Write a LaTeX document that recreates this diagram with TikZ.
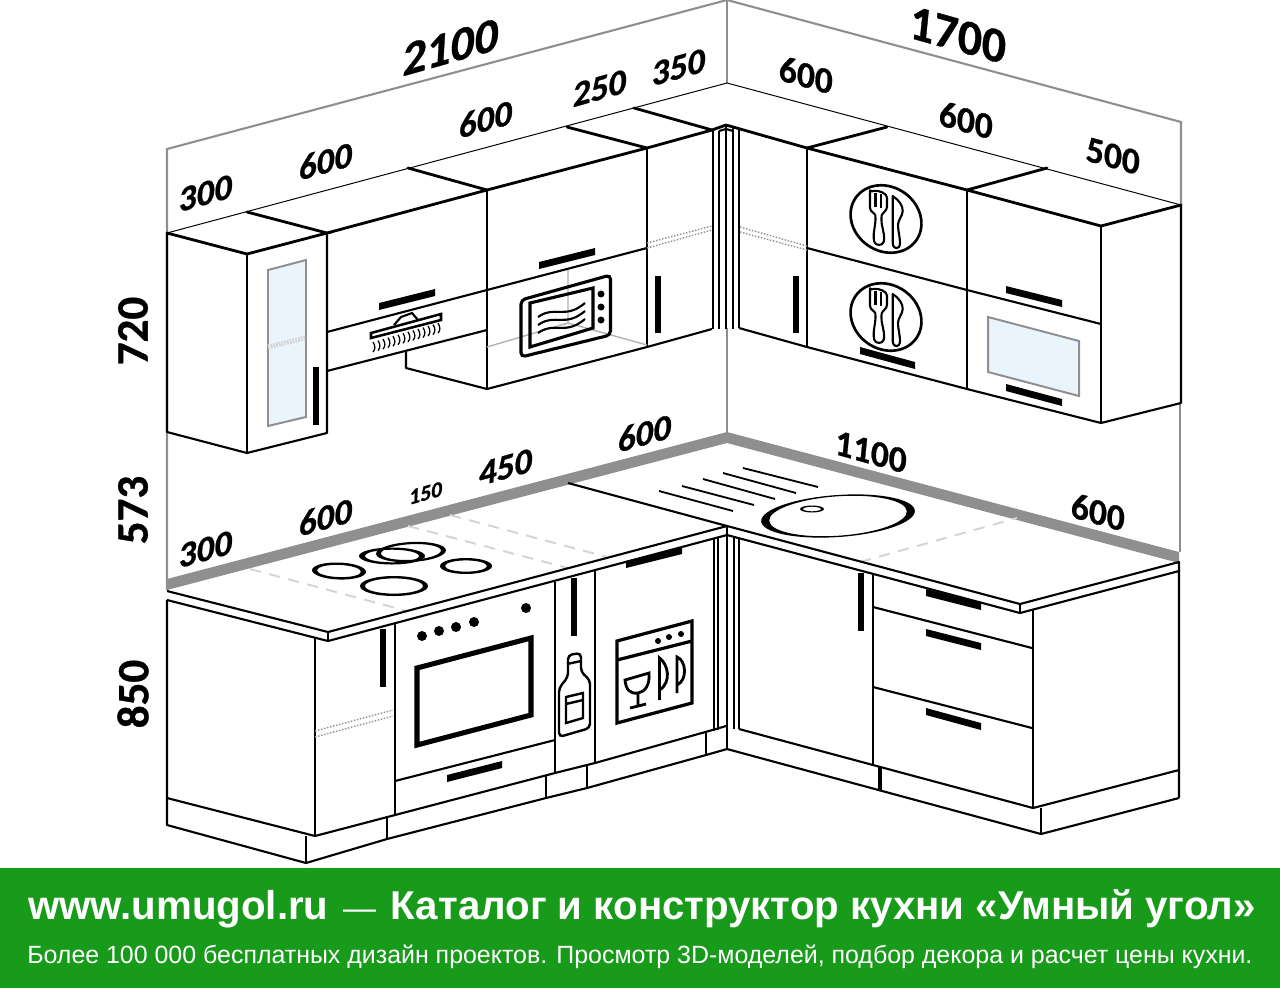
\documentclass[tikz,border=0pt]{standalone}
\usepackage{fontspec}
\setmainfont{Liberation Sans}
\newfontfamily\dimfont{Carlito Bold}[FakeBold=0.7]
\definecolor{wallgray}{HTML}{8F8F8F}
\definecolor{banner}{HTML}{189A1A}
\definecolor{glassblue}{HTML}{EAF4FD}
\definecolor{dashgray}{HTML}{D4D4D4}
\newcommand{\handle}[4]{\fill[black] (#1,#2) -- ++(#3,#4) -- ++(0,7) -- ++(-#3,-#4) -- cycle;}
\newcommand{\vhandle}[3]{\fill[black] (#1,#2) rectangle (#1+6,#3);}
\newcommand{\ringshape}[7]{\fill[black,even odd rule,rotate around={#6:(#1,#2)}] (#1,#2) ellipse [x radius=#3,y radius=#4] (#1,#2) ellipse [x radius=#3-#5,y radius=#4-#7];}
\newcommand{\cutlery}[2]{%
\begin{scope}[shift={(#1,#2)}]
\draw[ln,rounded corners=1.2] (-16,-27) -- (-16,-13) .. controls (-16,-7) and (-11,-6) .. (-10.5,-2) .. controls (-10.5,6) and (-13,15) .. (-12,21) .. controls (-11,27) and (-3,27) .. (-2,21) .. controls (-1.5,14) and (-5,6) .. (-4.5,-2) .. controls (-4,-6) and (1,-8) .. (1,-14) -- (1,-23) .. controls (-4,-28) and (-11,-29) .. (-16,-27) -- cycle;
\draw[ln] (-10.5,-26) -- (-10.5,-12) (-5,-25) -- (-5,-11);
\draw[ln] (6.7,-23) .. controls (13,-19) and (17,-13) .. (16.7,-8) .. controls (16.5,-3) and (12,1) .. (12,6) .. controls (12,12) and (14,18) .. (14,24) .. controls (14,31) and (7,31) .. (6.7,24) -- cycle;
\draw[line width=1.9pt,rotate around={-35:(0,0)}] (0,0) ellipse [x radius=37,y radius=32];
\end{scope}}
\tikzset{
 ln/.style={line width=1.5pt,line join=round},
 thn/.style={line width=.7pt},
 thk/.style={line width=2pt,line cap=round},
 wallline/.style={draw=wallgray,line width=1.5pt},
 glasspane/.style={fill=glassblue,draw=wallgray,line width=1.4pt},
 cdash/.style={draw=dashgray,line width=1.4pt,dash pattern=on 8pt off 6pt},
 dotline/.style={draw=gray!85,line width=1pt,dash pattern=on 1.1pt off 1.1pt},
 leftdim/.style={font=\dimfont\fontsize{26}{26}\selectfont,inner sep=0pt,cm={.96,.27,.06,1,(0,0)}},
 rightdim/.style={font=\dimfont\fontsize{26}{26}\selectfont,inner sep=0pt,cm={.96,-.27,.1,1,(0,0)}},
 vertdim/.style={font=\dimfont\fontsize{32}{32}\selectfont,inner sep=0pt,rotate=90},
}
\begin{document}
\begin{tikzpicture}[x=0.025cm,y=-0.025cm]
\useasboundingbox (0,0) rectangle (1280,988);
% walls
\draw[wallline] (167,590) -- (167,149) -- (727,0) -- (1181,122) -- (1181,205);
\draw[wallline] (727,0) -- (727,83);
\draw[wallline] (727,328) -- (727,432);
\draw[wallline] (1180,403) -- (1180,552);
\draw[thn] (167,233) -- (727,83) -- (1181,205);
% upper left cabinet 300
\draw[ln] (167,233) -- (167,432) -- (247,453) -- (327,433) -- (327,233);
\draw[ln] (247,254) -- (247,453);
\draw[thk] (167,233) -- (247,254) -- (327,233) -- (247,212);
\draw[glasspane] (268,270) -- (306,260) -- (306,417) -- (268,426) -- cycle;
\draw[dashgray,line width=3.5pt,dash pattern=on 1.2pt off .8pt] (268,347) -- (305,338);
\vhandle{313}{367}{425}
% upper run
\draw[thk] (327,233) -- (487,190) -- (647,148) -- (712,130) -- (726,125);
\draw[thk] (408,168) -- (487,190);
\draw[thk] (567,127) -- (647,148);
\draw[thk] (634,108) -- (712,130);
\draw[ln] (487,190) -- (487,389);
\draw[ln] (647,148) -- (647,347);
\draw[ln] (327,332) -- (487,290) -- (647,248);
\draw[ln] (327,371) -- (487,330);
\draw[ln] (406,350) -- (406,368) -- (487,389) -- (647,347) -- (712,329);
\draw[draw=gray!60,line width=1pt] (487,347) -- (568,323) -- (647,345) (568,270) -- (568,323);
\draw[dotline] (647,248) -- (712,230) (647,243) -- (712,226);
\handle{539}{262}{56}{-14}
\handle{379}{303}{56}{-14}
\vhandle{655}{276}{333}
% corner strip upper
\draw[ln] (713,129) -- (713,329) (719,131) -- (719,329) (726,125) -- (726,329) (733,128) -- (733,329) (739,128) -- (739,328);
\draw[ln] (719,131) -- (726,129) -- (733,131);
% microwave
\draw[line width=2.2pt,rounded corners=3] (521,300) -- (610.5,275) -- (610.5,335) -- (521,357) -- cycle;
\draw[line width=2.2pt] (530,303) -- (593,288) -- (593,328) -- (530,347) -- cycle;
\fill (601,294) circle [radius=3.5] (601,307) circle [radius=3.5] (601,320) circle [radius=3.5];
\foreach \d in {0,8,16}{\draw[ln] (538,317+\d) .. controls (555,305+\d) and (565,320+\d) .. (585,303+\d);}
% hood
\draw[line width=1.8pt,fill=white] (371,333) -- (441,314) -- (441,320) -- (371,338) -- cycle;
\draw[ln] (394,325) -- (401,317) -- (412,313) -- (418,320);
\foreach \i in {0,...,13}{\draw[line width=.9pt] (373+\i*5,342-\i*1.45) .. controls (375.5+\i*5,346-\i*1.45) and (375.5+\i*5,349-\i*1.45) .. (373+\i*5,352-\i*1.45);}
% upper right
\draw[thk] (726,125) -- (807,148) -- (967,190) -- (1101,226) -- (1181,205);
\draw[thk] (807,148) -- (887,127);
\draw[thk] (967,190) -- (1047,168);
\draw[ln] (739,328) -- (807,347) -- (967,389) -- (1101,423) -- (1181,403) -- (1181,205);
\draw[ln] (807,148) -- (807,347) (967,190) -- (967,389) (1101,226) -- (1101,423);
\draw[ln] (807,248) -- (967,290) -- (1101,324);
\draw[dotline] (740,227) -- (807,246) (740,232) -- (807,250);
\vhandle{793}{276}{333}
\cutlery{886}{219}
\cutlery{886}{317}
\handle{860}{347}{55}{15}
\handle{1006}{286}{56}{14}
\handle{1006}{384}{56}{15}
\draw[glasspane] (988,317) -- (1079,341) -- (1079,396) -- (988,372) -- cycle;
% backsplash band
\fill[wallgray] (167,579) -- (727,432) -- (1179,552) -- (1179,563) -- (727,443) -- (167,590) -- cycle;
% countertop
\draw[cdash] (250,569) -- (407,611);
\draw[cdash] (408,526) -- (568,568);
\draw[cdash] (450,515) -- (607,557);
\draw[cdash] (860,562) -- (1017,518);
\draw[ln] (167,591) -- (328,632) -- (727,526) -- (1020,604) -- (1179,562) -- (1179,798);
\draw[ln] (167,600) -- (328,641) -- (727,535) -- (1020,613) -- (1179,571);
\draw[ln] (328,632) -- (328,641) (727,526) -- (727,749) (1020,604) -- (1020,613);
\draw[ln] (568,483) -- (727,526);
% hob
\ringshape{339}{571}{27}{8.5}{5}{-2}{2.4}
\ringshape{466}{566}{26}{8}{5}{0}{2.4}
\ringshape{394}{586}{34}{10}{5}{0}{2.4}
\ringshape{392}{556}{33}{8.5}{6}{0}{2.2}
\ringshape{411}{552}{35}{10}{5}{3}{2.2}
% sink
\foreach \a/\b/\c/\d in {659/491/733/511,682/486/754/505,703/479/775/499,723/473/796/493,743/468/818/487}{\draw[line width=1.3pt] (\a,\b) -- (\c,\d);}
\ringshape{838}{516}{77}{21}{8}{4}{1.3}
\ringshape{812}{509}{12}{3.5}{3}{0}{1.2}
% base left
\draw[ln] (167,600) -- (167,825) -- (306,863) -- (387,839) -- (546,798) -- (587,788) -- (706,755) -- (727,749);
\draw[ln] (167,798) -- (315,836) -- (395,815) -- (555,773) -- (595,763) -- (716,729) -- (726,726);
\draw[ln] (315,637) -- (315,836) (306,836) -- (306,863) (387,817) -- (387,839) (546,775) -- (546,798) (587,765) -- (587,788) (706,733) -- (706,755);
\draw[ln] (395,624) -- (395,815) (555,582) -- (555,773) (595,569) -- (595,762);
\draw[ln] (395,781) -- (555,740);
\draw[dotline] (315,731) -- (393,710) (315,737) -- (393,716);
\vhandle{380}{629}{687}
\vhandle{571}{578}{636}
% oven
\draw[line width=3.6pt] (417,668) -- (531,638) -- (531,715) -- (417,745) -- cycle;
\fill (422,636) circle [radius=5] (439,631) circle [radius=5] (456,627) circle [radius=5] (474,622) circle [radius=5] (526,608) circle [radius=5];
\handle{447}{775}{55}{-14}
\handle{626}{561}{56}{-14}
% bottle
\draw[line width=1.7pt,rounded corners=3] (568,655) -- (581,653) -- (581,672) -- (590,680) -- (590,728) -- (559,737) -- (559,688) -- (568,677) -- cycle;
\draw[line width=1.7pt] (567,664) -- (581,661);
\draw[line width=1.7pt] (566,697) -- (583,693) -- (583,718) -- (566,723) -- cycle (566,704) -- (583,700);
% dishwasher icon
\draw[line width=2.3pt] (617,641) -- (692,621) -- (692,703) -- (617,723) -- cycle (617,660) -- (692,641);
\fill (658,641) circle [radius=3] (669,637) circle [radius=3] (681,634) circle [radius=3];
\draw[line width=2pt] (625,680) -- (649,673) .. controls (650,685) and (645,692) .. (638,693) .. controls (630,694) and (626,690) .. (625,680) -- cycle (638,693) -- (638,706) (630,708) -- (646,704);
\draw[line width=2pt] (659.5,700) -- (659.5,658) .. controls (668,664) and (672,682) .. (659.5,690);
\draw[line width=2pt] (677,693) -- (677,657) .. controls (686,660) and (688,680) .. (677,685);
% corner strip base
\draw[ln] (714,539) -- (714,731) (718,538) -- (718,730) (734,538) -- (734,729) (739,539) -- (739,729);
% base right
\draw[ln] (739,729) -- (1033,808) -- (1179,770);
\draw[ln] (727,749) -- (1041,834) -- (1179,798);
\draw[line width=2.4pt] (880,767) -- (880,791);
\draw[line width=2.1pt] (873,574) -- (873,765);
\draw[ln] (873,607) -- (1032,648) (873,687) -- (1032,728);
\draw[ln] (1041,808) -- (1041,834);
\draw[ln] (1033,610) -- (1033,808);
\vhandle{858}{573}{631}
\handle{926}{589}{55}{14}
\handle{926}{629}{55}{14}
\handle{926}{708}{55}{15}
% dimension labels
\node[leftdim,font=\dimfont\fontsize{35}{35}\selectfont] (d2100) at (451,47) {2100};
\node[rightdim,font=\dimfont\fontsize{35}{35}\selectfont] (d1700) at (958,35) {1700};
\node[leftdim] (u300) at (206,193) {300};
\node[leftdim] (u600a) at (326,161) {600};
\node[leftdim] (u600b) at (486,119) {600};
\node[leftdim] (u250) at (600,88) {250};
\node[leftdim] (u350) at (679,67) {350};
\node[rightdim] (u600c) at (806,75) {600};
\node[rightdim] (u600d) at (966,120) {600};
\node[rightdim] (u500) at (1113,156) {500};
\node[leftdim] (b300) at (206,549) {300};
\node[leftdim] (b600a) at (326,517) {600};
\node[leftdim,font=\dimfont\fontsize{16}{16}\selectfont] (b150) at (426,493) {150};
\node[leftdim] (b450) at (506,467) {450};
\node[leftdim] (b600b) at (645,433) {600};
\node[rightdim] (b1100) at (871,452) {1100};
\node[rightdim] (b600c) at (1098,512) {600};
\node[vertdim] (v720) at (133,331) {720};
\node[vertdim] (v573) at (133,510) {573};
\node[vertdim] (v850) at (133,694) {850};
% banner
\fill[banner] (0,868) rectangle (1280,988);
\node[anchor=base west,inner sep=0pt,text=white,font=\fontsize{28.6}{28.6}\selectfont\bfseries] (title) at (28,919) {www.umugol.ru\hspace{10.5pt}{\mdseries\fontsize{23.5}{23.5}\selectfont —}\hspace{10.5pt}Каталог и конструктор кухни «Умный угол»};
\node[anchor=base west,inner sep=0pt,text=white,font=\fontsize{17.73}{17.73}\selectfont] (subtitle) at (27,963) {Более 100 000 бесплатных дизайн проектов. Просмотр 3D-моделей, подбор декора и расчет цены кухни.};
\end{tikzpicture}
\end{document}
